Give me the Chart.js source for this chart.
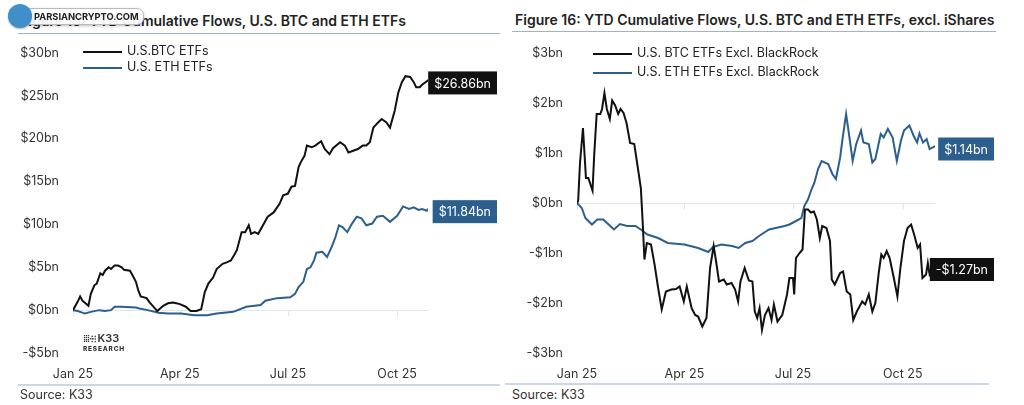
<!DOCTYPE html>
<html>
<head>
<meta charset="utf-8">
<script src="https://cdn.jsdelivr.net/npm/chart.js@4"></script>
<style>
  body { margin:0; width:1024px; height:405px; background:#fff; font-family:Inter, "Open Sans", sans-serif; color:#2a2a2a; overflow:hidden; position:relative; }
  .abs { position:absolute; }
  .title { font-size:14px; font-weight:600; color:#222; white-space:nowrap; }
  .rule { height:1px; background:#9fb2c6; }
  .foot { height:2px; background:#cad8e6; }
  .source { font-size:12.5px; color:#333; }
  .leg { font-size:12.5px; color:#222; white-space:nowrap; }
  .leg i { display:inline-block; width:39px; height:2px; vertical-align:middle; margin-right:5px; }
  .mark { position:absolute; left:8px; top:4px; }
  .mark .dot { position:absolute; left:0; top:0; width:24px; height:24px; border-radius:50%; background:#3f8fcb; box-shadow:0 1px 2px rgba(0,0,0,.3); }
  .mark .tag { position:absolute; left:16px; top:4px; padding:2px 4px 2px 9px; background:rgba(255,255,255,.93); border:1px solid #bbb; border-radius:7px; font:bold 9.3px Inter, sans-serif; color:#222; white-space:nowrap; box-shadow:0 1px 3px rgba(0,0,0,.25); }
  .k33 { font:600 11px Inter, sans-serif; color:#333; line-height:10px; }
  .k33 small { display:block; font-size:6.5px; letter-spacing:.8px; font-weight:800; }
</style>
</head>
<body>
<div class="abs title" style="left:20px;top:12px;">Figure 15: YTD Cumulative Flows, U.S. BTC and ETH ETFs</div>
<div class="abs rule" style="left:18px;top:33px;width:482px;"></div>
<div class="abs title" style="left:515px;top:11px;">Figure 16: YTD Cumulative Flows, U.S. BTC and ETH ETFs, excl. iShares</div>
<div class="abs rule" style="left:512px;top:31px;width:484px;"></div>

<div class="abs" style="left:0;top:40px;width:505px;height:345px;"><canvas id="leftChart"></canvas></div>
<div class="abs" style="left:505px;top:40px;width:519px;height:345px;"><canvas id="rightChart"></canvas></div>

<div class="abs leg" style="left:83px;top:43px;"><i style="background:#111"></i>U.S.BTC ETFs</div>
<div class="abs leg" style="left:83px;top:59px;"><i style="background:#2d5f8e"></i>U.S. ETH ETFs</div>
<div class="abs leg" style="left:593px;top:45px;"><i style="background:#111"></i>U.S. BTC ETFs Excl. BlackRock</div>
<div class="abs leg" style="left:593px;top:64px;"><i style="background:#2d5f8e"></i>U.S. ETH ETFs Excl. BlackRock</div>

<div class="abs k33" style="left:83px;top:333px;"><span style="letter-spacing:-1px;font-size:9px;">⁞⁞⁞·⁝·⁝</span> K33<small>RESEARCH</small></div>

<div class="abs foot" style="left:18px;top:384px;width:482px;"></div>
<div class="abs foot" style="left:505px;top:383px;width:484px;"></div>
<div class="abs source" style="left:20px;top:387px;">Source: K33</div>
<div class="abs source" style="left:512px;top:387px;">Source: K33</div>

<div class="mark"><div class="tag">PARSIANCRYPTO.COM</div><div class="dot"></div></div>

<script>
// x values are days since 1 Jan 2025
const tickDays = [0, 90, 181, 273];
const tickLabels = ['Jan 25', 'Apr 25', 'Jul 25', 'Oct 25'];

// Figure 15 (US$ bn)
const btcDays = [0,4,6,8,13,15,18,20,23,25,27,30,32,35,38,41,43,48,50,53,55,57,62,64,69,71,76,80,84,87,90,95,99,104,108,111,114,118,121,126,130,133,136,138,142,145,148,150,153,156,160,164,169,174,177,181,184,187,190,192,195,197,201,204,209,212,216,219,225,229,232,236,240,244,247,250,253,257,260,264,267,271,274,277,280,284,287,289,292,294,298,299];
const btcFlows = [0,1.0,1.6,1.1,0.5,1.9,2.9,3.1,4.3,4.1,4.6,5.0,4.8,5.2,5.2,5.0,4.7,4.6,4.1,3.3,2.3,1.6,1.4,1.0,0.2,-0.1,0.5,0.8,0.9,0.8,0.7,0.4,-0.1,-0.1,0.1,2.1,3.1,3.8,4.8,5.4,5.6,5.8,6.5,7.0,9.1,9.1,9.9,8.9,9.1,8.9,9.9,10.9,11.4,12.4,13.4,13.6,14.4,14.5,16.7,17.3,18.0,19.2,19.0,19.2,19.7,18.8,18.2,18.9,19.6,19.2,18.4,18.6,18.8,19.2,19.2,19.6,21.3,21.9,22.3,21.9,21.3,23.3,25.4,26.6,27.3,27.2,26.6,26.0,26.0,26.3,26.7,26.86];
const ethDays = [0,4,10,15,22,27,32,35,41,53,56,63,72,80,91,102,108,113,121,135,146,158,162,172,183,187,190,194,197,200,203,205,210,214,218,221,224,227,231,235,239,243,247,252,256,261,267,273,278,283,287,291,294,298,299];
const ethFlows = [0,-0.1,-0.4,-0.2,0,-0.1,0,0.4,0.4,0.3,0.2,0,-0.3,-0.4,-0.4,-0.6,-0.6,-0.6,-0.4,-0.2,0.4,0.6,1.1,1.4,1.5,1.9,2.7,3.3,4.8,5.0,5.8,6.7,6.8,6.2,7.4,8.5,9.9,9.7,9.1,10.1,10.9,10.7,9.9,10.1,10.9,11.0,10.3,11.0,12.1,11.8,12.0,11.7,11.8,11.6,11.84];

// Figure 16, excl. BlackRock (US$ bn)
const btcExDays = [0,1,2.5,5,7.5,9.5,13,14.5,16.5,19.5,21,23,25,27.5,29.5,32,34.5,36.5,39,41.5,44.5,48,50.5,53.5,55,56.5,58.5,62,65,68,71,74.5,79,83,86,89.5,92,96,99,101.5,105,108.5,111.5,114.5,116.5,119,123,125.5,129.5,132.5,135,137,140.5,144,147,149,151,153,155,157.5,160.5,163,165,168,172,176,178,181,182,183.5,186.5,189,191,193.5,196,198.5,201,203.5,205.5,209,212,213.5,216,220.5,223,226,229,231.5,234.5,239,241.5,244.5,247.5,250,253,255,257,259.5,262,265.5,268.5,271,274,277,280,282.5,285.5,287.5,289.5,292.5,294,295.5,300];
const btcExFlows = [0,0.05,0.8,1.5,0.5,0.5,0.25,1.0,1.78,1.78,1.88,2.2,1.88,1.68,2.05,1.95,1.78,1.88,1.8,1.6,1.2,1.18,0.78,0.3,-0.36,-1.13,-0.8,-0.83,-1.23,-1.7,-2.13,-1.77,-1.73,-1.72,-1.67,-1.97,-1.67,-2.1,-2.24,-2.27,-2.47,-2.3,-1.3,-0.86,-1.16,-1.57,-1.53,-1.63,-1.6,-1.73,-1.97,-1.57,-1.3,-1.55,-1.57,-2.17,-2.3,-2.1,-2.54,-2.24,-2.1,-2.34,-2.03,-2.37,-2.24,-1.83,-1.5,-1.5,-1.83,-1.1,-1.0,-0.93,-0.13,-0.13,-0.19,-0.17,-0.33,-0.7,-0.46,-0.5,-0.76,-1.53,-1.63,-1.4,-1.37,-1.77,-1.83,-2.34,-2.17,-1.97,-2.03,-1.83,-2.17,-2.0,-1.37,-1.03,-1.1,-0.96,-1.1,-1.5,-1.87,-1.3,-0.76,-0.5,-0.43,-0.63,-0.9,-0.83,-1.5,-1.43,-1.2,-1.43,-1.27];
const ethExDays = [0,4,7,12.5,17,22,26.5,31,36,42,49,53.5,59,68,76,90,101.5,110,114,121,130,135.5,141,147,152.5,161,166.5,174,178,183.5,188,190.5,193.5,196.5,199,202,205,210.5,214,217,220.5,222.5,225.5,228.5,231,234,238,240,244.5,247.5,250,254.5,257,260.5,264.5,268,271.5,274,278.5,282,285,287,290,293,295.5,300];
const ethExFlows = [0,-0.1,-0.3,-0.43,-0.33,-0.33,-0.43,-0.53,-0.42,-0.46,-0.46,-0.53,-0.63,-0.7,-0.8,-0.83,-0.9,-0.98,-0.88,-0.83,-0.86,-0.9,-0.8,-0.76,-0.66,-0.53,-0.5,-0.46,-0.43,-0.36,-0.3,-0.06,0.07,0.27,0.41,0.68,0.84,0.78,0.58,0.48,0.91,1.28,1.78,1.28,0.84,1.18,1.45,1.21,1.18,0.81,0.88,1.38,1.31,1.48,1.31,0.84,1.25,1.45,1.55,1.35,1.21,1.39,1.21,1.28,1.08,1.14];

const BLACK = '#111111';
const BLUE = '#2d5f8e';
const FONT = 'Inter, "Open Sans", sans-serif';

function bn(v) {
    return (v < 0 ? '-$' + Math.abs(v) : '$' + v) + 'bn';
}

function pts(days, vals) {
    return days.map((d, i) => ({x: d, y: vals[i]}));
}

// zero line, small ticks and end-value boxes
const extras = {
    id: 'extras',
    beforeDatasetsDraw(chart) {
        const ctx = chart.ctx, x = chart.scales.x, y = chart.scales.y, a = chart.chartArea;
        const y0 = Math.round(y.getPixelForValue(0)) + 0.5;
        ctx.save();
        ctx.strokeStyle = '#e1e6ec';
        ctx.lineWidth = 1.2;
        ctx.beginPath();
        ctx.moveTo(a.left, y0); ctx.lineTo(a.right, y0);
        tickDays.forEach(d => {
            const px = Math.round(x.getPixelForValue(d)) + 0.5;
            ctx.moveTo(px, y0); ctx.lineTo(px, y0 + 6);
        });
        ctx.stroke();
        ctx.restore();
    },
    afterDatasetsDraw(chart, args, opts) {
        const ctx = chart.ctx, y = chart.scales.y;
        ctx.save();
        ctx.font = '12.5px ' + FONT;
        chart.data.datasets.forEach(ds => {
            const last = ds.data[ds.data.length - 1].y;
            const txt = ds.endLabel;
            const w = ctx.measureText(txt).width + 12;
            const cy = y.getPixelForValue(last) + 3;
            ctx.fillStyle = ds.borderColor;
            ctx.fillRect(opts.right - w, cy - 11.5, w, 23);
            ctx.fillStyle = '#fff';
            ctx.textBaseline = 'middle';
            ctx.fillText(txt, opts.right - w + 6, cy + 1);
        });
        ctx.restore();
    }
};

function makeChart(id, sets, yMin, yMax, yStep, xMax, yWidth, padRight, boxRight) {
    return new Chart(document.getElementById(id), {
        type: 'line',
        data: {
            datasets: sets.map(s => ({
                label: s.label,
                data: s.data,
                endLabel: s.endLabel,
                borderColor: s.color,
                backgroundColor: s.color,
                borderWidth: 2,
                pointRadius: 0,
                tension: 0,
                fill: false
            }))
        },
        options: {
            responsive: true,
            maintainAspectRatio: false,
            animation: false,
            layout: {padding: {top: 13, right: padRight, left: 0, bottom: 0}},
            plugins: {
                legend: {display: false},
                tooltip: {enabled: false},
                extras: {right: boxRight}
            },
            scales: {
                x: {
                    type: 'linear',
                    min: 0,
                    max: xMax,
                    grid: {display: false, drawTicks: false},
                    border: {display: false},
                    afterBuildTicks: sc => { sc.ticks = tickDays.map(v => ({value: v})); },
                    afterFit: sc => { sc.height = 32; },
                    ticks: {
                        padding: 14,
                        maxRotation: 0,
                        color: '#333',
                        font: {family: FONT, size: 12.5},
                        callback: v => tickLabels[tickDays.indexOf(v)]
                    }
                },
                y: {
                    min: yMin,
                    max: yMax,
                    grid: {display: false, drawTicks: false},
                    border: {display: false},
                    afterFit: sc => { sc.width = yWidth; sc.paddingTop = 0; sc.paddingBottom = 0; },
                    ticks: {
                        stepSize: yStep,
                        padding: 14,
                        color: '#333',
                        font: {family: FONT, size: 12.5},
                        callback: v => bn(v)
                    }
                }
            }
        },
        plugins: [extras]
    });
}

makeChart('leftChart', [
    {label: 'U.S.BTC ETFs', data: pts(btcDays, btcFlows), color: BLACK, endLabel: '$26.86bn'},
    {label: 'U.S. ETH ETFs', data: pts(ethDays, ethFlows), color: BLUE, endLabel: '$11.84bn'}
], -5, 30, 5, 299, 73, 77, 497);

makeChart('rightChart', [
    {label: 'U.S. BTC ETFs Excl. BlackRock', data: pts(btcExDays, btcExFlows), color: BLACK, endLabel: '-$1.27bn'},
    {label: 'U.S. ETH ETFs Excl. BlackRock', data: pts(ethExDays, ethExFlows), color: BLUE, endLabel: '$1.14bn'}
], -3, 3, 1, 300, 72, 89, 489);
</script>
</body>
</html>
